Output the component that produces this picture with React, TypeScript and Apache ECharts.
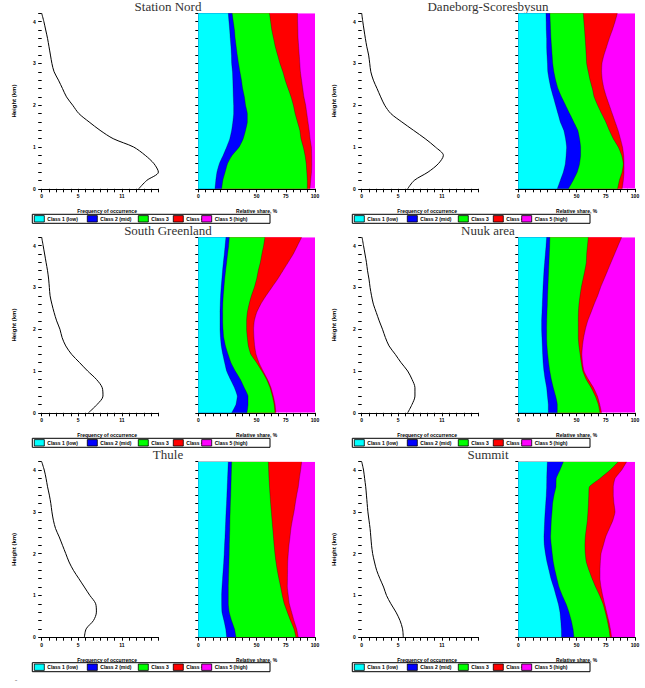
import React, { useEffect, useRef } from "react";
import * as echarts from "echarts";

// ---------- data ----------
const LEVELS = [0, 0.2, 0.4, 0.6, 0.8, 1.0, 1.2, 1.4, 1.6, 1.8, 2.0, 2.2, 2.4, 2.6, 2.8, 3.0, 3.2, 3.4, 3.6, 3.8, 4.0, 4.2];
const LEVEL_LABELS = ["0.0", "0.2", "0.4", "0.6", "0.8", "1.0", "1.2", "1.4", "1.6", "1.8", "2.0", "2.2", "2.4", "2.6", "2.8", "3.0", "3.2", "3.4", "3.6", "3.8", "4.0", "4.2"];
const TOTAL = 100;

const TITLES = ["Station Nord", "Daneborg-Scoresbysun", "South Greenland", "Nuuk area", "Thule", "Summit"];
const LEGEND_LABELS = ["Class 1 (low)", "Class 2 (mid)", "Class 3", "Class 4", "Class 5 (high)"];
const BAND_COLORS = ["#00ffff", "#0000ff", "#00ff00", "#ff0000", "#ff00ff"];
const Y_NAME = "Height (km)";
const LEFT_X_NAME = "Frequency of occurrence";
const RIGHT_X_NAME = "Relative share, %";
const LEFT_X_LABELS = [0, 5, 11];
const RIGHT_X_LABELS = [0, 50, 75, 100];

// Station Nord
const NORD_PROFILE = [13.3, 14.4, 16.0, 15.4, 14.2, 12.6, 9.8, 8.0, 6.5, 5.1, 4.25, 3.4, 2.85, 2.3, 1.7, 1.4, 1.2, 1.0, 0.8, 0.55, 0.3, 0.0];
const NORD_CYAN = [14.3, 15, 16, 18, 21.3, 24.3, 27, 28.6, 29.6, 30.3, 30.3, 30, 29.8, 29.6, 29.3, 28.6, 28.4, 28, 27.4, 26.9, 26.3, 25.7];
const NORD_BLUE = [20, 21, 23, 25, 29, 35, 38.5, 40.5, 42, 42, 40.5, 39.5, 38, 37, 35.7, 34.5, 33.4, 32.5, 31.6, 31, 30, 29];
const NORD_GREEN = [93.4, 93.4, 93, 92.5, 91.5, 90, 88, 87, 85, 83, 81.5, 79.5, 77, 74.5, 72.5, 70, 68, 66, 64.5, 63, 62, 61];
const NORD_RED = [95.7, 96.3, 97, 97.2, 97.1, 96.9, 95.8, 95, 94, 93, 92, 90.5, 89.5, 88.5, 87.5, 87, 86.5, 86, 85.5, 85.3, 85.1, 85];

// Daneborg-Scoresbysun
const DANE_PROFILE = [6.3, 7.2, 9.1, 10.5, 11.2, 10.1, 8.7, 7.1, 5.5, 4.0, 3.15, 2.6, 2.1, 1.6, 1.25, 1.1, 0.95, 0.7, 0.5, 0.32, 0.15, 0.0];
const DANE_CYAN = [33.4, 36, 38.6, 40.3, 41, 41.4, 40.5, 39, 36, 34, 32, 30, 28, 26.5, 25.3, 25, 24.6, 24.3, 24.3, 24, 23.9, 23.7];
const DANE_BLUE = [42.9, 47, 50.5, 52.5, 53.4, 53.4, 52.5, 51, 47.5, 44, 40.5, 37, 34, 32, 30.5, 29.5, 29, 28.5, 28, 27.7, 27.4, 27.1];
const DANE_GREEN = [85.1, 86.6, 89, 90, 88.6, 85.7, 81.4, 78, 75, 71.4, 68, 65, 63.5, 61.5, 60, 58.6, 58.2, 57.8, 57.3, 56.8, 56.2, 55.7];
const DANE_RED = [89, 90, 90.6, 90.6, 90.3, 89.3, 87.5, 85.5, 83, 80.5, 78, 75.5, 73.4, 72, 71.4, 71.7, 73.4, 75.7, 78, 80.6, 82.9, 84.9];

// South Greenland
const SG_PROFILE = [6.4, 7.6, 8.4, 8.3, 7.5, 6.3, 5.2, 4.1, 3.3, 2.8, 2.5, 2.05, 1.7, 1.4, 1.15, 1.05, 0.95, 0.8, 0.6, 0.4, 0.2, 0.0];
const SG_CYAN = [28.6, 32.3, 33.4, 31, 27.5, 24.3, 22.6, 21, 19.7, 19, 18.6, 18.6, 18.6, 18.8, 19.1, 19.6, 20.2, 20.8, 21.5, 22.3, 23, 23.7];
const SG_BLUE = [41.7, 42.6, 42.6, 39.4, 36, 31.7, 28, 25.5, 23.3, 21.8, 21.2, 20.9, 20.9, 21, 21.4, 22, 22.6, 23.4, 24.3, 25.1, 26, 26.6];
const SG_GREEN = [65.7, 65, 63.5, 61.5, 58.5, 54.5, 50, 45, 42.9, 42, 41.4, 41.4, 42, 43.5, 45.5, 48, 50, 51.4, 53.2, 54.5, 56, 57.1];
const SG_RED = [66.5, 65.8, 64.3, 62.3, 59.3, 55.5, 52, 49.5, 48.3, 47.7, 47.4, 48, 50, 53.5, 58, 63, 68, 72.5, 77, 81.4, 85, 88.6];

// Nuuk area
const NUUK_PROFILE = [6.3, 6.9, 7.3, 7.3, 6.9, 6.3, 5.4, 4.6, 3.75, 3.25, 2.85, 2.4, 2.0, 1.6, 1.35, 1.15, 1.0, 0.8, 0.65, 0.45, 0.25, 0.05];
const NUUK_CYAN = [25.7, 25.7, 25, 24.3, 23, 22, 21.3, 20.9, 20.6, 20.3, 20, 20, 20.3, 20.6, 20.9, 21.2, 21.6, 22, 22.6, 23.2, 23.8, 24.3];
const NUUK_BLUE = [33.4, 33.4, 32, 30, 28.3, 27, 26, 25.2, 24.6, 24.3, 24.3, 24.4, 24.6, 24.9, 25.1, 25.4, 25.7, 26, 26.3, 26.6, 26.9, 27.1];
const NUUK_GREEN = [70, 68.6, 66, 62.5, 58.2, 55.3, 54, 53, 52, 51.4, 51.4, 51.4, 51.5, 52, 52.9, 54, 55.5, 57, 58.3, 58.6, 59.3, 60];
const NUUK_RED = [71.4, 69.8, 67.8, 64.5, 60, 56.3, 55, 54.5, 55, 56, 57.5, 59.5, 62.3, 65, 68, 70.5, 73.5, 76.5, 79.5, 82.5, 85.5, 88.6];

// Thule
const THULE_PROFILE = [5.85, 6.1, 7.1, 7.5, 7.4, 6.6, 5.85, 5.1, 4.35, 3.75, 3.3, 2.85, 2.4, 1.9, 1.6, 1.4, 1.25, 1.05, 0.8, 0.6, 0.35, 0.0];
const THULE_CYAN = [24.3, 23.5, 22, 20.3, 20, 20, 20.3, 20.8, 21.3, 21.8, 22.2, 22.5, 22.9, 23.2, 23.5, 23.8, 24.2, 24.5, 24.8, 25.1, 25.4, 25.7];
const THULE_BLUE = [32.3, 31, 28.5, 26.5, 25.7, 25.7, 25.7, 25.9, 26.1, 26.3, 26.5, 26.6, 26.8, 27, 27.1, 27.3, 27.5, 27.8, 28, 28.2, 28.4, 28.6];
const THULE_GREEN = [83.7, 82, 79, 76.3, 73.7, 72, 70.6, 69.1, 67.7, 66.6, 65.7, 65, 64.4, 63.8, 63.2, 62.6, 62, 61.5, 61, 60.6, 60.3, 60];
const THULE_RED = [85.7, 84.3, 82, 80, 78, 77.1, 76.3, 76.4, 76.5, 76.6, 77.1, 77.7, 78.6, 79.4, 80.6, 82, 83.1, 84.3, 85.7, 86.6, 87.7, 88.6];

// Summit
const SUMMIT_PROFILE = [5.7, 5.6, 5.25, 4.7, 4.0, 3.4, 3.0, 2.5, 2.05, 1.75, 1.5, 1.35, 1.25, 1.15, 1.0, 0.85, 0.75, 0.65, 0.55, 0.4, 0.25, 0.0];
const SUMMIT_CYAN = [37.1, 36.9, 36.4, 35.7, 34.3, 32.3, 30.3, 28, 26.3, 24.6, 23.3, 22.3, 22, 22.3, 22.6, 23, 23.5, 24, 24.3, 24.4, 24.6, 24.9];
const SUMMIT_BLUE = [47.7, 46.9, 45.4, 43.4, 40.9, 37.7, 34.9, 33.1, 31.4, 30, 29.1, 28.3, 27.7, 28, 28.3, 28.9, 29.4, 30.6, 32.3, 32.5, 35.7, 38.6];
const SUMMIT_GREEN = [78.6, 77.7, 76.3, 74.6, 72.6, 69.7, 66.3, 63.3, 60.6, 58.3, 57.4, 57.1, 57.4, 58.3, 59.2, 59.7, 60.1, 60.4, 60.9, 70, 78.6, 85.7];
const SUMMIT_RED = [80, 78.9, 77.4, 75.7, 74, 72.3, 70.9, 70, 70, 70.3, 70.9, 72.9, 74.9, 78, 81.1, 82.9, 82, 81.4, 81.4, 82.9, 88.6, 92.9];

const STATIONS = [
  { profile: NORD_PROFILE, bands: [NORD_CYAN, NORD_BLUE, NORD_GREEN, NORD_RED] },
  { profile: DANE_PROFILE, bands: [DANE_CYAN, DANE_BLUE, DANE_GREEN, DANE_RED] },
  { profile: SG_PROFILE, bands: [SG_CYAN, SG_BLUE, SG_GREEN, SG_RED] },
  { profile: NUUK_PROFILE, bands: [NUUK_CYAN, NUUK_BLUE, NUUK_GREEN, NUUK_RED] },
  { profile: THULE_PROFILE, bands: [THULE_CYAN, THULE_BLUE, THULE_GREEN, THULE_RED] },
  { profile: SUMMIT_PROFILE, bands: [SUMMIT_CYAN, SUMMIT_BLUE, SUMMIT_GREEN, SUMMIT_RED] },
];

// ---------- layout ----------
const COL_SHIFT = 320;
const LEFT_PLOT_X = 41.7;
const RIGHT_PLOT_X = 198.3;
const PLOT_W = 116.7;
const ROW_TOPS = [13.3, 237.3, 461.7];
const PLOT_H = 175.5;
const SWATCH_OFFSETS = [2, 55, 106, 141, 169.4];

const tinyText = { fontSize: 5, fontWeight: "bold" as const, color: "#000", fontFamily: "Liberation Sans" };

function buildOption() {
  const grid: any[] = [];
  const xAxis: any[] = [];
  const yAxis: any[] = [];
  const series: any[] = [];
  const graphic: any[] = [];

  STATIONS.forEach((st, p) => {
    const col = p % 2;
    const row = Math.floor(p / 2);
    const top = ROW_TOPS[row];
    const dx = COL_SHIFT * col;
    grid.push({ left: LEFT_PLOT_X + dx, top, width: PLOT_W, height: PLOT_H, containLabel: false });
    grid.push({ left: RIGHT_PLOT_X + dx, top, width: PLOT_W, height: PLOT_H, containLabel: false });
    const gl = 2 * p;
    const gr = 2 * p + 1;

    xAxis.push({
      gridIndex: gl,
      type: "value",
      min: 0,
      max: 16,
      interval: 1,
      splitLine: { show: false },
      axisLine: { show: true, lineStyle: { color: "#000", width: 1 } },
      axisTick: { show: true, length: 3.5, lineStyle: { color: "#000" } },
      axisLabel: {
        ...tinyText,
        margin: 5,
        formatter: (v: number) => (LEFT_X_LABELS.indexOf(Math.round(v)) >= 0 && Math.abs(v - Math.round(v)) < 1e-6 ? String(Math.round(v)) : ""),
      },
      name: LEFT_X_NAME,
      nameLocation: "middle",
      nameGap: 20,
      nameTextStyle: { ...tinyText, padding: [0, 0, 0, 14] },
    });
    yAxis.push({
      gridIndex: gl,
      type: "value",
      min: 0,
      max: 4.2,
      interval: 0.2,
      splitLine: { show: false },
      axisLine: { show: false },
      axisTick: { show: true, length: 3.5, lineStyle: { color: "#000" } },
      axisLabel: {
        ...tinyText,
        margin: 6,
        formatter: (v: number) => (Math.abs(v - Math.round(v)) < 1e-6 ? String(Math.round(v)) : ""),
      },
      name: Y_NAME,
      nameLocation: "middle",
      nameGap: 25,
      nameRotate: 90,
      nameTextStyle: { ...tinyText, fontSize: 6 },
    });
    xAxis.push({
      gridIndex: gr,
      type: "value",
      min: 0,
      max: 100,
      interval: 6.25,
      splitLine: { show: false },
      axisLine: { show: true, lineStyle: { color: "#000", width: 1 } },
      axisTick: { show: true, length: 3.5, lineStyle: { color: "#000" } },
      axisLabel: {
        ...tinyText,
        margin: 5,
        formatter: (v: number) => (RIGHT_X_LABELS.indexOf(v) >= 0 ? String(v) : ""),
      },
      name: RIGHT_X_NAME,
      nameLocation: "middle",
      nameGap: 20,
      nameTextStyle: { ...tinyText, padding: [0, 0, 0, 0] },
    });
    yAxis.push({
      gridIndex: gr,
      type: "category",
      data: LEVEL_LABELS,
      boundaryGap: false,
      splitLine: { show: false },
      axisLine: { show: false },
      axisTick: { show: true, interval: 0, length: 3, lineStyle: { color: "#000" } },
      axisLabel: { show: false },
    });

    series.push({
      type: "line",
      xAxisIndex: gl,
      yAxisIndex: gl,
      data: LEVELS.map((h, k) => [st.profile[k], h]),
      showSymbol: false,
      symbol: "none",
      smooth: 0.3,
      clip: false,
      lineStyle: { color: "#000", width: 1 },
    });

    // bands drawn as overlapping fills from the total down to the first boundary
    const fills = [
      { data: LEVELS.map(() => TOTAL), color: BAND_COLORS[4], edge: 0 },
      { data: st.bands[3], color: BAND_COLORS[3], edge: 0.6 },
      { data: st.bands[2], color: BAND_COLORS[2], edge: 0.6 },
      { data: st.bands[1], color: BAND_COLORS[1], edge: 0.6 },
      { data: st.bands[0], color: BAND_COLORS[0], edge: 0.6 },
    ];
    fills.forEach((f) => {
      series.push({
        type: "line",
        xAxisIndex: gr,
        yAxisIndex: gr,
        data: f.data,
        showSymbol: false,
        symbol: "none",
        smooth: 0.15,
        lineStyle: { width: f.edge, color: "rgba(0,0,0,0.45)" },
        areaStyle: { color: f.color, opacity: 1 },
      });
    });

    // title
    graphic.push({
      type: "text",
      x: 168 + dx,
      y: top - 7.3,
      style: {
        text: TITLES[p],
        fontSize: 13,
        fontWeight: "normal",
        fontFamily: "Liberation Serif",
        fill: "#333",
        stroke: "none",
        lineWidth: 0,
        align: "center",
        verticalAlign: "middle",
      },
    });

    // legend box
    const lx = 32.3 + dx;
    const ly = top + PLOT_H + 25.5;
    graphic.push({
      type: "rect",
      shape: { x: lx, y: ly, width: 237.7, height: 9 },
      style: { fill: "#fff", stroke: "#000", lineWidth: 1 },
    });
    SWATCH_OFFSETS.forEach((off, i) => {
      graphic.push({
        type: "rect",
        shape: { x: lx + off, y: ly + 1.3, width: 10, height: 6.4 },
        style: { fill: BAND_COLORS[i], stroke: "#000", lineWidth: 0.8 },
      });
      graphic.push({
        type: "text",
        x: lx + off + 13,
        y: ly + 4.6,
        style: {
          text: LEGEND_LABELS[i],
          fontSize: 5,
          fontWeight: "bold",
          fontFamily: "Liberation Sans",
          fill: "#000",
          stroke: "none",
          align: "left",
          verticalAlign: "middle",
        },
      });
    });
  });

  graphic.push({
    type: "text",
    x: 16,
    y: 679,
    style: { text: "-", fontSize: 8, fill: "#777", stroke: "none", align: "center", verticalAlign: "middle" },
  });

  return {
    animation: false,
    backgroundColor: "#fff",
    textStyle: { fontFamily: "Liberation Sans" },
    grid,
    xAxis,
    yAxis,
    series,
    graphic,
  };
}

export default function App() {
  const ref = useRef<HTMLDivElement>(null);
  useEffect(() => {
    if (!ref.current) return;
    const chart = echarts.init(ref.current, undefined, { renderer: "svg" });
    chart.setOption(buildOption() as any);
    return () => chart.dispose();
  }, []);
  return (
    <div
      ref={ref}
      style={{ position: "absolute", left: 0, top: 0, width: 645, height: 688, background: "#fff" }}
    />
  );
}
